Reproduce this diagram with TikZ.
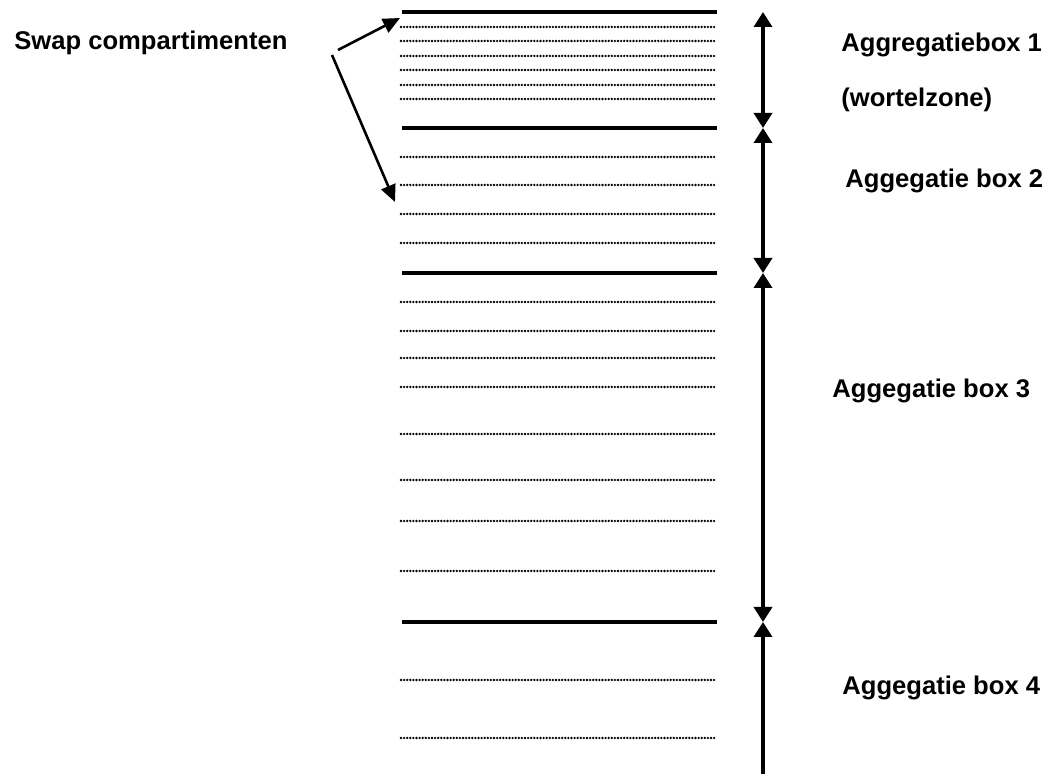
\documentclass[tikz,border=0pt]{standalone}
\usepackage{fontspec}
\setmainfont{Liberation Sans}
\usetikzlibrary{arrows.meta}
\tikzset{
  pijlpunt/.tip={Triangle[length=7.5pt,width=9pt]},
  scheidslijn/.style={line width=2pt},
  puntlijn/.style={line width=1.3pt,line cap=round,dash pattern=on 0pt off 1.55pt},
  aspijl/.style={line width=1.75pt,pijlpunt-pijlpunt},
  swappijl/.style={line width=1.3pt,-{Triangle[length=8.5pt,width=7.5pt]}},
  tekst/.style={font=\bfseries\fontsize{12.8}{15}\selectfont,inner sep=0pt,anchor=base west}
}
\begin{document}
\begin{tikzpicture}[x=.5pt,y=-.5pt]
\useasboundingbox(0,0)rectangle(1051,774);
\foreach \y in {12,128,273,622}\draw[scheidslijn](402,\y)--(717,\y);
\foreach \y in {27,41,56,70,85,99,157,185,214,243,302,331,358,387,434,480,521,571,680,738}\draw[puntlijn](401,\y)--(715,\y);
\coordinate(v0)at(763,12);\coordinate(v1)at(763,128);\coordinate(v2)at(763,273);\coordinate(v3)at(763,622);\coordinate(v4)at(763,774);
\draw[aspijl](v0)--(v1);\draw[aspijl](v1)--(v2);\draw[aspijl](v2)--(v3);\draw[aspijl,pijlpunt-](v3)--(v4);
\node[tekst](swap)at(14,50){Swap compartimenten};
\node[tekst](agg1)at(841,52){Aggregatiebox 1};\node[tekst](wortel)at(841,107){(wortelzone)};
\node[tekst](agg2)at(845,188){Aggegatie box 2};
\node[tekst](agg3)at(832,398){Aggegatie box 3};
\node[tekst](agg4)at(842,695){Aggegatie box 4};
\coordinate(s1)at(338,50);\coordinate(t1)at(400,18);\coordinate(s2)at(332,55);\coordinate(t2)at(395,202);
\draw[swappijl](s1)--(t1);\draw[swappijl](s2)--(t2);
\end{tikzpicture}
\end{document}
